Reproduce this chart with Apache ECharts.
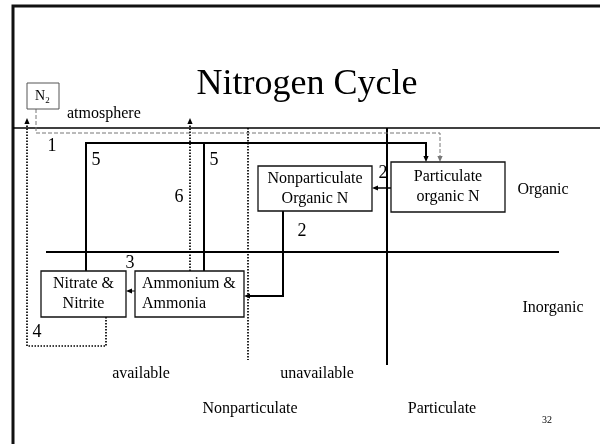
<!DOCTYPE html>
<html>
<head>
<meta charset="utf-8">
<title>Nitrogen Cycle</title>
<script src="https://cdn.jsdelivr.net/npm/echarts@6/dist/echarts.min.js"></script>
<style>
html, body { margin: 0; padding: 0; background: #fff; }
#main { width: 600px; height: 444px; }
</style>
</head>
<body>
<div id="main"></div>
<script>
// boxes of the diagram, in slide units [x0, y0, x1, y1]
var boxRects = [[258, 166, 372, 211], [391, 162, 505, 212], [41, 271, 126, 317], [135, 271, 244, 317], [27, 83, 59, 109]];
var boxLines = [['Nonparticulate', 'Organic N'], ['Particulate', 'organic N'], ['Nitrate &', 'Nitrite'], ['Ammonium &', 'Ammonia'], []];
var boxAlign = ['center', 'center', 'center', 'left', 'center'];

// connectors and dividers (polylines)
var paths = [
  [[13, 444], [13, 6], [600, 6]],
  [[13, 128], [600, 128]],
  [[46, 252], [559, 252]],
  [[387, 128], [387, 365]],
  [[36, 109], [36, 133], [440, 133], [440, 162]],
  [[86, 271], [86, 143], [426, 143], [426, 162]],
  [[204, 271], [204, 143]],
  [[391, 188], [372, 188]],
  [[283, 211], [283, 296], [244, 296]],
  [[135, 291], [126, 291]],
  [[106, 317], [106, 346], [27, 346], [27, 118]],
  [[190, 271], [190, 118]],
  [[248, 128], [248, 360]]
];
var pathKinds = ['frame', 'divider', 'thick', 'thick', 'dashed', 'thick', 'thick', 'solid', 'thick', 'thin', 'dotted', 'dotted', 'dotted'];
var pathArrow = [false, false, false, false, true, true, false, true, true, true, true, true, false];

// free text: [text, x, y, size, align]
var labels = [
  ['Nitrogen Cycle', 307, 85, 36, 'center'],
  ['atmosphere', 67, 114, 16, 'left'],
  ['1', 52, 146, 18, 'center'],
  ['5', 96, 160, 18, 'center'],
  ['5', 214, 160, 18, 'center'],
  ['6', 179, 197, 18, 'center'],
  ['2', 383, 173, 18, 'center'],
  ['2', 302, 231, 18, 'center'],
  ['3', 130, 263, 18, 'center'],
  ['4', 37, 332, 18, 'center'],
  ['Organic', 543, 190, 16, 'center'],
  ['Inorganic', 553, 308, 16, 'center'],
  ['available', 141, 374, 16, 'center'],
  ['unavailable', 317, 374, 16, 'center'],
  ['Nonparticulate', 250, 409, 16, 'center'],
  ['Particulate', 442, 409, 16, 'center'],
  ['32', 547, 420, 10, 'center'],
  ['N', 40, 96, 14, 'center'],
  ['2', 47.5, 101, 9, 'center']
];

var FONT = '"Liberation Serif", "Times New Roman", serif';
var lineStyles = {
  frame: { color: '#111', width: 3, dash: null },
  divider: { color: '#000', width: 1.3, dash: null },
  thick: { color: '#000', width: 2, dash: null },
  solid: { color: '#000', width: 1.5, dash: null },
  thin: { color: '#000', width: 1, dash: null },
  dotted: { color: '#000', width: 1.7, dash: [1.5, 1.5] },
  dashed: { color: '#777', width: 1, dash: [4, 2] }
};

var chart = echarts.init(document.getElementById('main'));

function renderPath(params, api) {
  var i = params.dataIndex;
  var pts = paths[i].map(function (p) { return api.coord(p); });
  var st = lineStyles[pathKinds[i]];
  var children = [];
  if (pathArrow[i]) {
    var a = pts[pts.length - 2], b = pts[pts.length - 1];
    var dx = b[0] - a[0], dy = b[1] - a[1];
    var len = Math.sqrt(dx * dx + dy * dy);
    var ux = dx / len, uy = dy / len;
    var L = 6, W = 2.6;
    var bx = b[0] - ux * L, by = b[1] - uy * L;
    pts[pts.length - 1] = [b[0] - ux * 3, b[1] - uy * 3];
    children.push({
      type: 'polygon',
      shape: { points: [b, [bx - uy * W, by + ux * W], [bx + uy * W, by - ux * W]] },
      style: { fill: st.color, stroke: null }
    });
  }
  children.unshift({
    type: 'polyline',
    shape: { points: pts },
    style: { stroke: st.color, lineWidth: st.width, lineDash: st.dash, fill: null }
  });
  return { type: 'group', children: children };
}

function renderBox(params, api) {
  var i = params.dataIndex;
  var r = boxRects[i];
  var p0 = api.coord([r[0], r[1]]);
  var p1 = api.coord([r[2], r[3]]);
  var small = boxLines[i].length === 0;
  var children = [{
    type: 'rect',
    shape: { x: p0[0], y: p0[1], width: p1[0] - p0[0], height: p1[1] - p0[1] },
    style: { fill: '#fff', stroke: small ? '#555' : '#111', lineWidth: small ? 1 : 1.3 }
  }];
  var midY = (p0[1] + p1[1]) / 2;
  boxLines[i].forEach(function (t, k) {
    var left = boxAlign[i] === 'left';
    children.push({
      type: 'text',
      x: left ? p0[0] + 7 : (p0[0] + p1[0]) / 2,
      y: midY + (k === 0 ? -10 : 10),
      style: {
        text: t, fill: '#000', fontSize: 16, fontFamily: FONT,
        align: left ? 'left' : 'center', verticalAlign: 'middle'
      }
    });
  });
  return { type: 'group', children: children };
}

function renderLabel(params, api) {
  var l = labels[params.dataIndex];
  var p = api.coord([l[1], l[2]]);
  return {
    type: 'text',
    x: p[0], y: p[1],
    style: {
      text: l[0], fill: '#000', fontSize: l[3], fontFamily: FONT,
      align: l[4], verticalAlign: 'middle'
    }
  };
}

var option = {
  animation: false,
  backgroundColor: '#fff',
  grid: { left: 0, right: 0, top: 0, bottom: 0 },
  xAxis: { type: 'value', min: 0, max: 600, show: false },
  yAxis: { type: 'value', min: 0, max: 444, inverse: true, show: false },
  series: [
    {
      type: 'custom', clip: false, z: 1,
      renderItem: renderPath,
      encode: { x: 0, y: 1 },
      data: paths.map(function (p) { return p[0]; })
    },
    {
      type: 'custom', clip: false, z: 2,
      renderItem: renderBox,
      encode: { x: 0, y: 1 },
      data: boxRects.map(function (r) { return [r[0], r[1]]; })
    },
    {
      type: 'custom', clip: false, z: 3,
      renderItem: renderLabel,
      encode: { x: 0, y: 1 },
      data: labels.map(function (l) { return [l[1], l[2]]; })
    }
  ]
};
option && chart.setOption(option);
</script>
</body>
</html>
